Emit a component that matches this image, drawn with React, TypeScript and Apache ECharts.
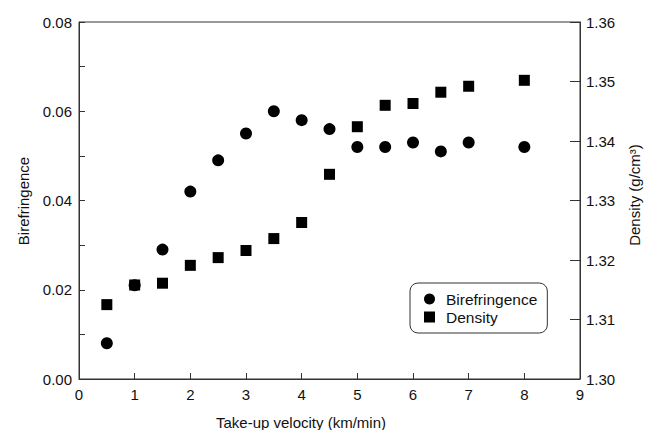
import React, { useEffect, useRef } from "react";
import * as echarts from "echarts";

const velocity = [0.5, 1, 1.5, 2, 2.5, 3, 3.5, 4, 4.5, 5, 5.5, 6, 6.5, 7, 8];
const birefringence = [0.008, 0.021, 0.029, 0.042, 0.049, 0.055, 0.06, 0.058, 0.056, 0.052, 0.052, 0.053, 0.051, 0.053, 0.052];
const density = [1.3125, 1.3158, 1.3161, 1.3191, 1.3204, 1.3216, 1.3236, 1.3263, 1.3344, 1.3424, 1.346, 1.3463, 1.3482, 1.3492, 1.3502];

const xTitle = "Take-up velocity (km/min)";
const leftTitle = "Birefringence";
const rightTitle = "Density (g/cm³)";

const FONT = "Liberation Sans";
const AXIS_COLOR = "#333";

export default function App() {
  const ref = useRef<HTMLDivElement>(null);
  useEffect(() => {
    if (!ref.current) return;
    const chart = echarts.init(ref.current, null, { renderer: "svg" });
    const biref = velocity.map((v, i) => [v, birefringence[i]]);
    const dens = velocity.map((v, i) => [v, density[i]]);
    chart.setOption({
      animation: false,
      backgroundColor: "#fff",
      textStyle: { fontFamily: FONT },
      grid: {
        left: 79,
        right: 66,
        top: 22,
        bottom: 51,
        show: true,
        borderColor: AXIS_COLOR,
        borderWidth: 1,
        backgroundColor: "transparent",
      },
      xAxis: {
        type: "value",
        min: 0,
        max: 9,
        interval: 1,
        axisLine: { show: true, lineStyle: { color: AXIS_COLOR, width: 1 } },
        axisTick: { show: true, inside: true, length: 6, lineStyle: { color: AXIS_COLOR } },
        axisLabel: { color: "#111", fontSize: 15, fontFamily: FONT, margin: 8 },
        splitLine: { show: false },
      },
      yAxis: [
        {
          type: "value",
          min: 0,
          max: 0.08,
          interval: 0.01,
          axisLine: { show: true, lineStyle: { color: AXIS_COLOR, width: 1 } },
          axisTick: { show: true, inside: true, length: 6, lineStyle: { color: AXIS_COLOR } },
          axisLabel: {
            color: "#111",
            fontSize: 15,
            fontFamily: FONT,
            margin: 7,
            formatter: (v: number) => {
              const k = Math.round(v * 100);
              return k % 2 === 0 ? v.toFixed(2) : "";
            },
          },
          splitLine: { show: false },
        },
        {
          type: "value",
          min: 1.3,
          max: 1.36,
          interval: 0.01,
          position: "right",
          axisLine: { show: true, lineStyle: { color: AXIS_COLOR, width: 1 } },
          axisTick: { show: true, inside: true, length: 10, lineStyle: { color: AXIS_COLOR } },
          axisLabel: {
            color: "#111",
            fontSize: 15,
            fontFamily: FONT,
            margin: 6,
            formatter: (v: number) => v.toFixed(2),
          },
          splitLine: { show: false },
        },
      ],
      legend: {
        show: true,
        orient: "vertical",
        left: 410,
        top: 283,
        padding: [8, 10, 8, 14],
        itemGap: 2,
        itemWidth: 11,
        itemHeight: 11,
        borderColor: AXIS_COLOR,
        borderWidth: 1,
        borderRadius: 8,
        backgroundColor: "#fff",
        textStyle: { color: "#111", fontSize: 15.5, fontFamily: FONT, lineHeight: 16, padding: [0, 0, 0, 6] },
        data: [
          { name: "Birefringence", icon: "circle" },
          { name: "Density", icon: "rect" },
        ],
      },
      series: [
        {
          name: "Density",
          type: "scatter",
          yAxisIndex: 1,
          symbol: "rect",
          symbolSize: 11,
          itemStyle: { color: "#000", opacity: 1 },
          data: dens,
        },
        {
          name: "Birefringence",
          type: "scatter",
          yAxisIndex: 0,
          symbol: "circle",
          symbolSize: 12,
          itemStyle: { color: "#000", opacity: 1 },
          data: biref,
        },
      ],
      graphic: [
        {
          type: "text",
          x: 301,
          y: 422,
          style: {
            text: xTitle,
            fontSize: 15,
            fontFamily: FONT,
            fill: "#111",
            align: "center",
            verticalAlign: "middle",
          },
        },
        {
          type: "text",
          x: 23,
          y: 201,
          rotation: Math.PI / 2,
          style: {
            text: leftTitle,
            fontSize: 15,
            fontFamily: FONT,
            fill: "#111",
            align: "center",
            verticalAlign: "middle",
          },
        },
        {
          type: "text",
          x: 634,
          y: 195,
          rotation: Math.PI / 2,
          style: {
            text: rightTitle,
            fontSize: 15,
            fontFamily: FONT,
            fill: "#111",
            align: "center",
            verticalAlign: "middle",
          },
        },
      ],
    });
    return () => chart.dispose();
  }, []);
  return <div ref={ref} style={{ width: 646, height: 430, position: "absolute", left: 0, top: 0 }} />;
}
